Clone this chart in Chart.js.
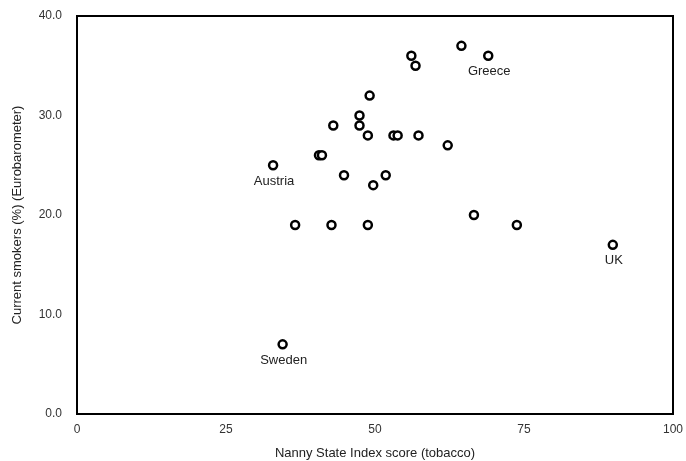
<!DOCTYPE html>
<html>
<head>
<meta charset="utf-8">
<script src="https://cdn.jsdelivr.net/npm/chart.js@4/dist/chart.umd.min.js"></script>
<style>
  body { margin: 0; background: #fff; }
  canvas { display: block; }
</style>
</head>
<body>
<canvas id="scatter" width="686" height="461"></canvas>
<script>
// Nanny State Index score (tobacco) vs current smokers (%)
var nannyScore = [64.5, 69, 56.1, 56.8, 49.1, 47.4, 47.4, 43.0, 48.8, 53.1, 53.8, 57.3, 62.2,
                  40.6, 41.1, 32.9, 44.8, 51.8, 49.7, 66.6, 36.6, 42.7, 48.8, 73.8, 89.9, 34.5];
var smokers    = [37, 36, 36, 35, 32, 30, 29, 29, 28, 28, 28, 28, 27,
                  26, 26, 25, 24, 24, 23, 20, 19, 19, 19, 19, 17, 7];
var countryLabels = ['', 'Greece', '', '', '', '', '', '', '', '', '', '', '',
                     '', '', 'Austria', '', '', '', '', '', '', '', '', 'UK', 'Sweden'];
var xTicks = [0, 25, 50, 75, 100];
var yTicks = [0, 10, 20, 30, 40];

var points = [];
for (var i = 0; i < nannyScore.length; i++) {
  points.push({ x: nannyScore[i], y: smokers[i] });
}

// black frame round the plot area
var framePlugin = {
  id: 'frame',
  afterDraw: function(chart) {
    var a = chart.chartArea, ctx = chart.ctx;
    ctx.save();
    ctx.strokeStyle = '#000';
    ctx.lineWidth = 2;
    ctx.strokeRect(a.left, a.top, a.right - a.left, a.bottom - a.top);
    ctx.restore();
  }
};

// country names under some of the points
var namePlugin = {
  id: 'names',
  afterDatasetsDraw: function(chart) {
    var meta = chart.getDatasetMeta(0), ctx = chart.ctx;
    ctx.save();
    ctx.font = '13px "Liberation Sans", Arial, sans-serif';
    ctx.fillStyle = '#222';
    ctx.textAlign = 'center';
    ctx.textBaseline = 'middle';
    meta.data.forEach(function(pt, idx) {
      if (countryLabels[idx]) ctx.fillText(countryLabels[idx], pt.x + 1, pt.y + 16);
    });
    ctx.restore();
  }
};

var tickFont = { family: '"Liberation Sans", Arial, sans-serif', size: 12 };

new Chart(document.getElementById('scatter'), {
  type: 'scatter',
  data: {
    datasets: [{
      data: points,
      pointRadius: 4,
      pointHoverRadius: 4,
      pointBorderWidth: 2.5,
      pointBorderColor: '#000',
      pointBackgroundColor: '#fff'
    }]
  },
  options: {
    responsive: false,
    animation: false,
    layout: { padding: { top: 16, right: 13, left: 0, bottom: 0 } },
    plugins: { legend: { display: false }, tooltip: { enabled: false } },
    scales: {
      x: {
        type: 'linear',
        min: 0, max: 100,
        afterBuildTicks: function(s) { s.ticks = xTicks.map(function(v) { return { value: v }; }); },
        afterFit: function(s) { s.height = 47; s.paddingLeft = 0; s.paddingRight = 0; },
        grid: { display: false, drawTicks: false },
        border: { display: false },
        ticks: { padding: 8, color: '#333', font: tickFont, maxRotation: 0 },
        title: {
          display: true,
          text: 'Nanny State Index score (tobacco)',
          color: '#222',
          font: { family: '"Liberation Sans", Arial, sans-serif', size: 13 },
          padding: { top: 0, bottom: 0 }
        }
      },
      y: {
        type: 'linear',
        min: 0, max: 40,
        afterBuildTicks: function(s) { s.ticks = yTicks.map(function(v) { return { value: v }; }); },
        afterFit: function(s) { s.width = 77; s.paddingTop = 0; s.paddingBottom = 0; },
        grid: { display: false, drawTicks: false },
        border: { display: false },
        ticks: {
          padding: 15, color: '#333', font: tickFont,
          callback: function(v) { return Number(v).toFixed(1); }
        },
        title: {
          display: true,
          text: 'Current smokers (%) (Eurobarometer)',
          color: '#222',
          font: { family: '"Liberation Sans", Arial, sans-serif', size: 13 },
          padding: { top: 10, bottom: 0 }
        }
      }
    }
  },
  plugins: [framePlugin, namePlugin]
});
</script>
</body>
</html>
